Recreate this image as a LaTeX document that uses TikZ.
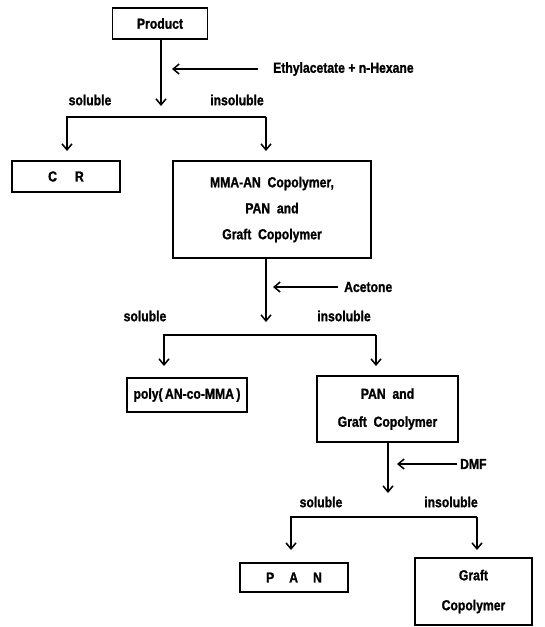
\documentclass[tikz,border=0pt]{standalone}
\usepackage{fontspec}
\setmainfont{Liberation Sans}[FakeStretch=0.84, BoldFeatures={FakeBold=1.2}]
\usetikzlibrary{arrows.meta}
\begin{document}
\begin{tikzpicture}[x=1pt,y=-1pt,
  every node/.style={font=\bfseries\fontsize{14.5}{15}\selectfont, inner sep=0pt},
  box/.style={draw, line width=1.3pt, align=center},
  arr/.style={line width=1.3pt, -{Straight Barb[length=6pt,width=10pt,line width=1.5pt]}}]
\useasboundingbox (0,0) rectangle (544,627);

% boxes
\node[box, minimum width=95pt, minimum height=31pt] (prod) at (160,23.5) {Product};
\node[box, minimum width=108pt, minimum height=31pt] (cr) at (66,176.5) {C\hspace{18pt}R};
\node[box, minimum width=198pt, minimum height=97pt] (mix) at (272,209.5)
  {MMA-AN\ \ Copolymer,\\[11pt]PAN\ \ and\\[11pt]Graft\ \ Copolymer};
\node[box, minimum width=120pt, minimum height=34pt] (poly) at (187,395) {poly(\,AN-co-MMA\,)};
\node[box, minimum width=141pt, minimum height=66pt] (pg) at (387.5,409)
  {PAN\ \ and\\[13pt]Graft\ \ Copolymer};
\node[box, minimum width=108pt, minimum height=29pt] (pan) at (294,577.5) {P\hspace{15pt}A\hspace{15pt}N};
\node[box, minimum width=117pt, minimum height=67pt] (graft) at (473.5,591.5)
  {Graft\\[15pt]Copolymer};

% reagent labels
\node[anchor=west] (eth) at (273,69) {Ethylacetate\ +\ n-Hexane};
\node[anchor=west] (ace) at (344,287) {Acetone};
\node[anchor=west] (dmf) at (460,464) {DMF};

% soluble / insoluble labels
\node (s1) at (90,100) {soluble};
\node (i1) at (237,100) {insoluble};
\node (s2) at (145,316) {soluble};
\node (i2) at (344,316) {insoluble};
\node (s3) at (321,502) {soluble};
\node (i3) at (451,502) {insoluble};

% coordinates
\coordinate (t1) at (161,106);
\coordinate (e1s) at (258,69);
\coordinate (e1t) at (172,69);
\coordinate (b1L) at (67,117);
\coordinate (b1R) at (266,117);
\coordinate (a1L) at (67,151);
\coordinate (a1R) at (266,151);

\coordinate (m1) at (266,258);
\coordinate (t2) at (266,322);
\coordinate (e2s) at (338,287);
\coordinate (e2t) at (273,287);
\coordinate (b2L) at (164,335);
\coordinate (b2R) at (376,335);
\coordinate (a2L) at (164,366);
\coordinate (a2R) at (376,366);

\coordinate (m2) at (388,442);
\coordinate (t3) at (388,493);
\coordinate (e3s) at (457,464);
\coordinate (e3t) at (397,464);
\coordinate (b3L) at (291,517);
\coordinate (b3R) at (477,517);
\coordinate (a3L) at (291,550);
\coordinate (a3R) at (477,550);

% connectors
\draw[arr] (prod.south -| t1) -- (t1);
\draw[arr] (e1s) -- (e1t);
\draw[arr] (b1R) -- (b1L) -- (a1L);
\draw[arr] (b1R) -- (a1R);

\draw[arr] (m1) -- (t2);
\draw[arr] (e2s) -- (e2t);
\draw[arr] (b2R) -- (b2L) -- (a2L);
\draw[arr] (b2R) -- (a2R);

\draw[arr] (m2) -- (t3);
\draw[arr] (e3s) -- (e3t);
\draw[arr] (b3R) -- (b3L) -- (a3L);
\draw[arr] (b3R) -- (a3R);
\end{tikzpicture}
\end{document}
